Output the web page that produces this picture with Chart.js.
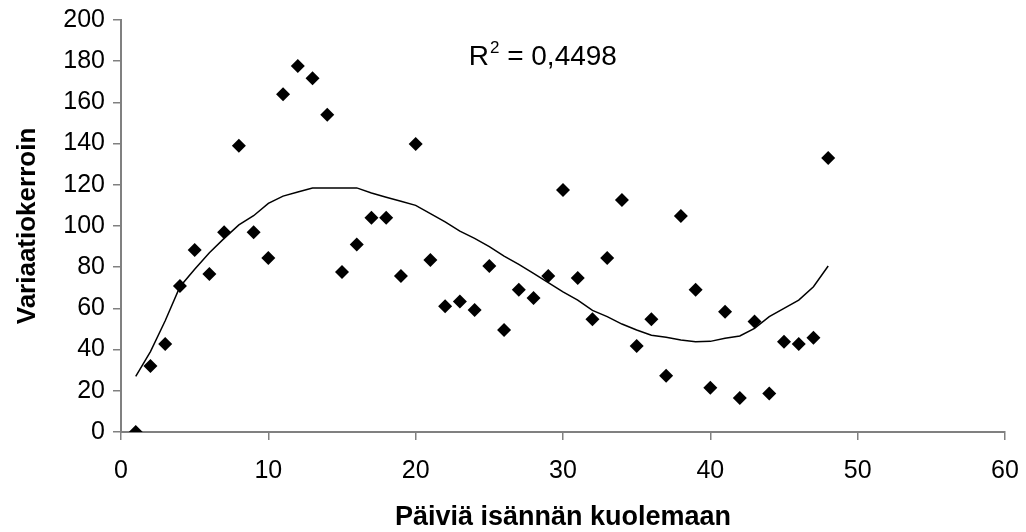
<!DOCTYPE html>
<html>
<head>
<meta charset="utf-8">
<script src="https://cdn.jsdelivr.net/npm/chart.js@4.4.1/dist/chart.umd.min.js"></script>
<style>
  html, body { margin: 0; padding: 0; background: #fff; }
  #wrap { width: 1026px; height: 532px; }
</style>
</head>
<body>
<div id="wrap"><canvas id="chart"></canvas></div>
<script>
const days = [1, 2, 3, 4, 5, 6, 7, 8, 9, 10, 11, 12, 13, 14, 15, 16, 17, 18, 19, 20, 21, 22, 23, 24,
    25, 26, 27, 28, 29, 30, 31, 32, 33, 34, 35, 36, 37, 38, 39, 40, 41, 42, 43, 44, 45, 46, 47, 48];
const variation = [0, 32, 42.7, 70.9, 88.3, 76.7, 97, 139, 97, 84.5, 164, 177.7, 171.7, 154, 77.7, 91,
    104, 104, 75.7, 139.8, 83.5, 61, 63.3, 59.2, 80.6, 49.5, 69, 65, 75.7, 117.5, 74.8, 54.7,
    84.5, 112.6, 41.7, 54.7, 27.3, 104.8, 69, 21.5, 58.4, 16.5, 53.6, 18.7, 43.8, 42.7, 45.8, 133];
// trend line
const trendDays = days;
const trendValues = [27, 39, 54, 70.5, 79, 87, 94, 100.5, 105, 111, 114.5, 116.5, 118.4, 118.5, 118.5, 118.5,
    116, 114, 112, 110, 106, 102, 97.5, 94, 90, 85.4, 81.4, 77, 72.5, 68, 64, 59,
    56, 52.4, 49.5, 47, 46, 44.7, 43.8, 44, 45.5, 46.6, 50.3, 56, 60, 64, 70.5, 80.6];
const xTicks = [0, 10, 20, 30, 40, 50, 60];
const yTicks = [0, 20, 40, 60, 80, 100, 120, 140, 160, 180, 200];
const rSquared = "0,4498";

const FONT = "'Liberation Sans', Arial, sans-serif";
const AXIS = "#808080";

const r2Label = {
    id: "r2Label",
    afterDraw(chart) {
        const ctx = chart.ctx;
        const x = chart.scales.x.getPixelForValue(23.6);
        const y = chart.scales.y.getPixelForValue(178);
        ctx.save();
        ctx.fillStyle = "#000";
        ctx.textBaseline = "alphabetic";
        ctx.textAlign = "left";
        ctx.font = "28px " + FONT;
        ctx.fillText("R", x, y);
        let w = ctx.measureText("R").width;
        ctx.font = "17px " + FONT;
        ctx.fillText("2", x + w + 1, y - 12);
        w += ctx.measureText("2").width + 1;
        ctx.font = "28px " + FONT;
        ctx.fillText(" = " + rSquared, x + w, y);
        ctx.restore();
    }
};

new Chart(document.getElementById("chart"), {
    type: "scatter",
    data: {
        datasets: [{
            data: days.map((d, i) => ({ x: d, y: variation[i] })),
            pointStyle: "rectRot",
            pointRadius: 7,
            pointHoverRadius: 7,
            backgroundColor: "#000",
            borderColor: "#000",
            borderWidth: 0
        }, {
            data: trendDays.map((d, i) => ({ x: d, y: trendValues[i] })),
            showLine: true,
            pointRadius: 0,
            borderColor: "#000",
            borderWidth: 1.5,
            tension: 0,
            fill: false
        }]
    },
    options: {
        responsive: true,
        maintainAspectRatio: false,
        animation: false,
        events: [],
        layout: { padding: { top: 20, right: 21, bottom: 0, left: 0 } },
        plugins: { legend: { display: false }, tooltip: { enabled: false } },
        scales: {
            x: {
                type: "linear",
                min: 0,
                max: 60,
                afterBuildTicks: s => { s.ticks = xTicks.map(v => ({ value: v })); },
                afterFit: s => { s.height = 100; s.paddingLeft = 0; s.paddingRight = 0; },
                border: { color: AXIS, width: 2 },
                grid: { drawOnChartArea: false, color: AXIS, tickLength: 8, lineWidth: 1.5 },
                ticks: { color: "#000", font: { family: FONT, size: 25 }, padding: 16, maxRotation: 0 },
                title: {
                    display: true,
                    text: "Päiviä isännän kuolemaan",
                    color: "#000",
                    font: { family: FONT, size: 27, weight: "bold" },
                    padding: { top: 0, bottom: -2 }
                }
            },
            y: {
                type: "linear",
                min: 0,
                max: 200,
                afterBuildTicks: s => { s.ticks = yTicks.map(v => ({ value: v })); },
                afterFit: s => { s.width = 121; s.paddingTop = 0; s.paddingBottom = 0; },
                border: { color: AXIS, width: 2 },
                grid: { drawOnChartArea: false, color: AXIS, tickLength: 8, lineWidth: 1.5 },
                ticks: { color: "#000", font: { family: FONT, size: 25 }, padding: 8 },
                title: {
                    display: true,
                    text: "Variaatiokerroin",
                    color: "#000",
                    font: { family: FONT, size: 26, weight: "bold" },
                    padding: { top: 12, bottom: 0 }
                }
            }
        }
    },
    plugins: [r2Label]
});
</script>
</body>
</html>
